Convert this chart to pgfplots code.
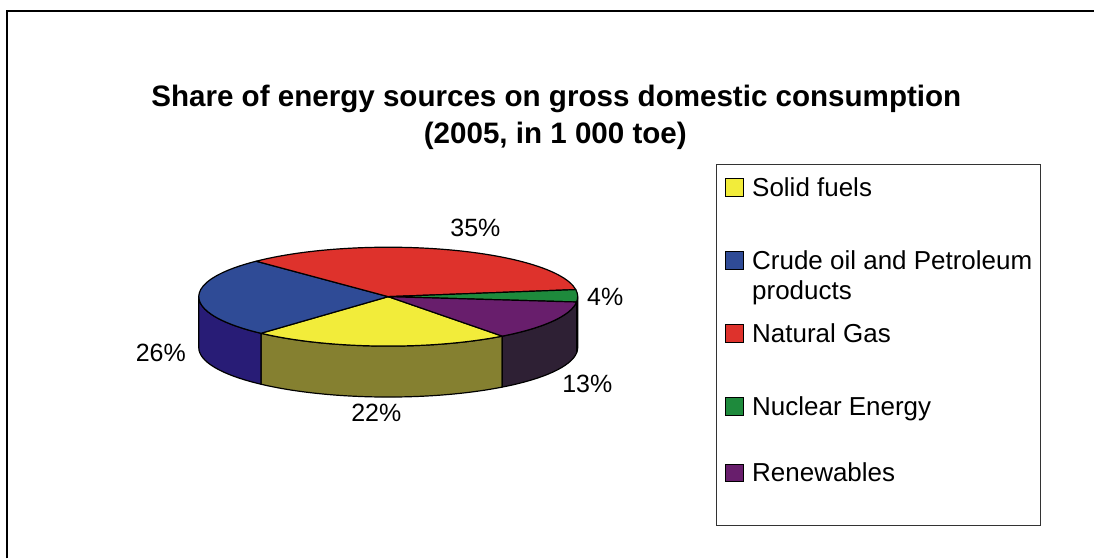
\documentclass[border=0pt]{standalone}
\usepackage{pgfplots}
\pgfplotsset{compat=1.18}
\usepackage{pgfplotstable}
\usepackage{fontspec}
\setmainfont{Liberation Sans}

% face colours (top) and shaded wall colours (side) of the slices
\definecolor{top0}{RGB}{242,236,58}
\definecolor{top1}{RGB}{47,75,150}
\definecolor{top2}{RGB}{222,50,44}
\definecolor{top3}{RGB}{30,138,60}
\definecolor{top4}{RGB}{104,30,108}
\definecolor{side0}{RGB}{133,128,48}
\definecolor{side1}{RGB}{40,28,118}
\definecolor{side2}{RGB}{110,25,22}
\definecolor{side3}{RGB}{20,75,35}
\definecolor{side4}{RGB}{46,32,52}

% share in percent, and where its label sits
\pgfplotstableread{
share lx    ly
22    376.7 421.7
26    161.0 361.7
35    476.0 236.7
4     606.0 306.0
13    588.0 393.3
}\pietable

% pie geometry
\def\cx{388.7}
\def\cy{297}
\def\rx{189.7}
\def\ry{49.5}
\def\dep{51}
\def\startang{-53}

% wall of a slice between angles #2 (upper) and #3 (lower)
\newcommand\pieside[3]{%
  \pgfmathsetmacro\px{\cx+\rx*cos(#2)}%
  \pgfmathsetmacro\py{\cy-\ry*sin(#2)}%
  \filldraw[fill=#1, draw=black, line width=1.2pt, line join=round]
    (axis cs:\px,\py)
    arc[start angle=#2, end angle=#3, x radius=\rx pt, y radius=\ry pt]
    -- ++(0pt,-\dep pt)
    arc[start angle=#3, end angle=#2, x radius=\rx pt, y radius=\ry pt]
    -- cycle;}

% top face of a slice from angle #2 clockwise to #3
\newcommand\pietop[3]{%
  \pgfmathsetmacro\px{\cx+\rx*cos(#2)}%
  \pgfmathsetmacro\py{\cy-\ry*sin(#2)}%
  \filldraw[fill=#1, draw=black, line width=1.2pt, line join=round]
    (axis cs:\cx,\cy) -- (axis cs:\px,\py)
    arc[start angle=#2, end angle=#3, x radius=\rx pt, y radius=\ry pt]
    -- cycle;}

\newcommand\lstrut{\rule[-6pt]{0pt}{31pt}}

\begin{document}
\begin{tikzpicture}
\begin{axis}[
  x=1pt, y=1pt, y dir=reverse,
  xmin=0, xmax=1095, ymin=0, ymax=559,
  hide axis, clip=false,
  legend cell align=left,
  legend image code/.code={\draw[#1, draw=black, line width=1pt] (0pt,0pt) rectangle (18pt,17.5pt);},
  legend style={at={(axis cs:717,164)}, anchor=north west,
    draw=black!80, line width=1.2pt, fill=white,
    inner xsep=8.5pt, inner ysep=7pt, row sep=42pt, column sep=8pt,
    font=\fontsize{26}{30}\selectfont,
    nodes={inner sep=0pt, text depth={}},
    cells={anchor=base west}},
]
\pgfplotsextra{%
  \path (axis cs:0,0) rectangle (axis cs:1095,559);
  % outer frame
  \draw[line width=2.6pt] (axis cs:7.2,559) -- (axis cs:7.2,11.2) -- (axis cs:1095,11.2);
  % title
  \node[anchor=base, font=\bfseries\fontsize{29.6}{35}\selectfont] at (axis cs:557,106.7)
    {Share of energy sources on gross domestic consumption};
  \node[anchor=base, font=\bfseries\fontsize{29.6}{35}\selectfont] at (axis cs:556,143.3)
    {(2005, in 1 000 toe)};
  \pgfplotstablegetrowsof{\pietable}%
  \pgfmathtruncatemacro{\nlast}{\pgfplotsretval-1}%
  % walls on the front half
  \xdef\angA{\startang}%
  \pgfplotsforeachungrouped \i in {0,...,\nlast}{%
    \pgfplotstablegetelem{\i}{share}\of\pietable
    \pgfmathsetmacro\angB{\angA-3.6*\pgfplotsretval}%
    \pgfmathsetmacro\hi{min(\angA,0)}%
    \pgfmathsetmacro\lo{max(\angB,-180)}%
    \ifdim\hi pt>\lo pt \pieside{side\i}{\hi}{\lo}\fi
    \pgfmathsetmacro\hi{min(\angA,-360)}%
    \pgfmathsetmacro\lo{max(\angB,-540)}%
    \ifdim\hi pt>\lo pt \pieside{side\i}{\hi}{\lo}\fi
    \xdef\angA{\angB}%
  }%
  % top faces and percentage labels
  \xdef\angA{\startang}%
  \pgfplotsforeachungrouped \i in {0,...,\nlast}{%
    \pgfplotstablegetelem{\i}{share}\of\pietable
    \let\sharev\pgfplotsretval
    \pgfmathsetmacro\angB{\angA-3.6*\sharev}%
    \pietop{top\i}{\angA}{\angB}%
    \pgfplotstablegetelem{\i}{lx}\of\pietable \let\lx\pgfplotsretval
    \pgfplotstablegetelem{\i}{ly}\of\pietable \let\ly\pgfplotsretval
    \node[anchor=base, font=\fontsize{25}{30}\selectfont] at (axis cs:\lx,\ly) {\sharev\%};
    \xdef\angA{\angB}%
  }%
}
\addlegendimage{fill=top0}
\addlegendentry{\lstrut Solid fuels}
\addlegendimage{fill=top1}
\addlegendentry{\lstrut\smash{\begin{tabular}[t]{@{}l@{}}Crude oil and Petroleum\\products\end{tabular}}}
\addlegendimage{fill=top2}
\addlegendentry{\lstrut Natural Gas}
\addlegendimage{fill=top3}
\addlegendentry{\lstrut Nuclear Energy}
\addlegendimage{fill=top4}
\addlegendentry{\rule[-37pt]{0pt}{31pt}Renewables}
\end{axis}
\end{tikzpicture}
\end{document}
